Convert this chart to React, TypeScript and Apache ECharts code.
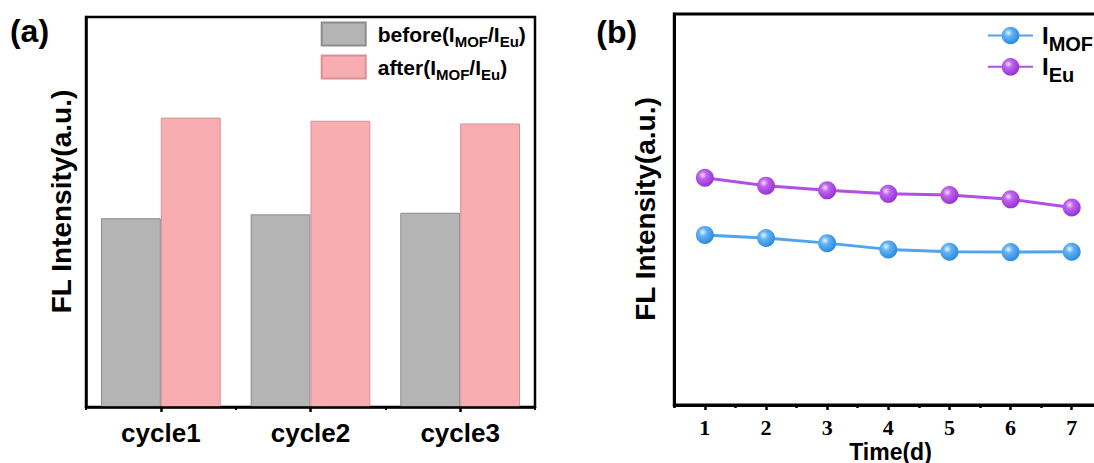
import React, { useEffect, useRef } from 'react';
import * as echarts from 'echarts';

// ---- data ----
const cycles = ['cycle1', 'cycle2', 'cycle3'];
const beforeValues = [48.4, 49.4, 49.8];
const afterValues = [74.2, 73.4, 72.7];
const days = ['1', '2', '3', '4', '5', '6', '7'];
const mofValues = [43.5, 42.7, 41.4, 39.8, 39.2, 39.1, 39.2];
const euValues = [58.1, 56.1, 54.9, 54.0, 53.7, 52.6, 50.5];
const barSeriesNames = ['before', 'after'];
const lineSeriesNames = ['IMOF', 'IEu'];

const SANS = '"Liberation Sans", Arial, sans-serif';
const SERIF = '"Liberation Serif", "Times New Roman", serif';

function sphere(hi: string, mid: string, edge: string) {
  return new echarts.graphic.RadialGradient(0.38, 0.35, 0.65, [
    { offset: 0, color: hi },
    { offset: 0.35, color: mid },
    { offset: 1, color: edge },
  ]);
}

export default function App() {
  const ref = useRef<HTMLDivElement>(null);
  useEffect(() => {
    const chart = echarts.init(ref.current!, null, { renderer: 'svg' });
    const blueFill = sphere('#eaf5ff', '#62b2f4', '#2d8be0');
    const purpleFill = sphere('#f3dcff', '#bd62ee', '#9a32d4');
    const option: any = {
      animation: false,
      backgroundColor: '#fff',
      grid: [
        { left: 86, top: 17, width: 449, height: 390, show: true, borderColor: '#000', borderWidth: 2.5, backgroundColor: 'transparent', outerBoundsMode: 'none', containLabel: false },
        { left: 674.3, top: 14, width: 428, height: 391, show: true, borderColor: '#000', borderWidth: 3, backgroundColor: 'transparent', outerBoundsMode: 'none', containLabel: false },
      ],
      legend: [
        {
          data: barSeriesNames,
          orient: 'vertical',
          left: 320.7,
          top: 21.5,
          padding: 0,
          itemWidth: 44,
          itemHeight: 23,
          itemGap: 5.5,
          icon: 'rect',
          formatter: (name: string) => `{m|${name}(I}{s|MOF}{m|/I}{s|Eu}{m|)}`,
          textStyle: {
            padding: [0, 0, 0, 7],
            rich: {
              m: { fontFamily: SANS, fontWeight: 'bold', fontSize: 21, lineHeight: 30, color: '#000' },
              s: { fontFamily: SANS, fontWeight: 'bold', fontSize: 15, lineHeight: 14, verticalAlign: 'bottom', color: '#000' },
            },
          },
        },
        {
          data: lineSeriesNames,
          orient: 'vertical',
          left: 987,
          top: 23.5,
          padding: 0,
          itemWidth: 45,
          itemHeight: 22,
          itemGap: 1.3,
          formatter: (name: string) => `{m|I}{s|${name.slice(1)}}`,
          textStyle: {
            padding: [0, 0, 0, 4],
            rich: {
              m: { fontFamily: SANS, fontWeight: 'bold', fontSize: 24, lineHeight: 36, color: '#000' },
              s: { fontFamily: SANS, fontWeight: 'bold', fontSize: 20, lineHeight: 20, verticalAlign: 'bottom', color: '#000' },
            },
          },
        },
      ],
      xAxis: [
        {
          type: 'category', gridIndex: 0, data: cycles, z: 5,
          axisLine: { show: true, lineStyle: { color: '#000', width: 2.5 } },
          axisTick: { show: true, alignWithLabel: true, length: 5, lineStyle: { color: '#000', width: 2.5 } },
          axisLabel: { show: true, color: '#000', fontFamily: SANS, fontWeight: 'bold', fontSize: 26, margin: 13 },
          splitLine: { show: false },
        },
        {
          type: 'category', gridIndex: 0, data: cycles, z: 5, position: 'bottom',
          axisLine: { show: false },
          axisTick: { show: true, alignWithLabel: false, length: 3, lineStyle: { color: '#000', width: 2 } },
          axisLabel: { show: false },
          splitLine: { show: false },
        },
        {
          type: 'category', gridIndex: 1, data: days, z: 5,
          axisLine: { show: true, lineStyle: { color: '#000', width: 3 } },
          axisTick: { show: true, alignWithLabel: true, length: 5, lineStyle: { color: '#000', width: 2.5 } },
          axisLabel: { show: true, color: '#000', fontFamily: SERIF, fontWeight: 'bold', fontSize: 22, margin: 11 },
          splitLine: { show: false },
        },
        {
          type: 'category', gridIndex: 1, data: days, z: 5, position: 'bottom',
          axisLine: { show: false },
          axisTick: { show: true, alignWithLabel: false, length: 3, lineStyle: { color: '#000', width: 2.5 } },
          axisLabel: { show: false },
          splitLine: { show: false },
        },
      ],
      yAxis: [
        {
          type: 'value', gridIndex: 0, min: 0, max: 100, z: 5,
          axisLine: { show: true, lineStyle: { color: '#000', width: 2.5 } },
          axisTick: { show: false }, axisLabel: { show: false }, splitLine: { show: false },
        },
        {
          type: 'value', gridIndex: 1, min: 0, max: 100, z: 5,
          axisLine: { show: true, lineStyle: { color: '#000', width: 3 } },
          axisTick: { show: false }, axisLabel: { show: false }, splitLine: { show: false },
        },
      ],
      series: [
        {
          name: barSeriesNames[0], type: 'bar', xAxisIndex: 0, yAxisIndex: 0, data: beforeValues,
          barGap: '0%', barCategoryGap: '20%',
          itemStyle: { color: '#b4b4b4', borderColor: '#8c8c8c', borderWidth: 1 },
        },
        {
          name: barSeriesNames[1], type: 'bar', xAxisIndex: 0, yAxisIndex: 0, data: afterValues,
          barGap: '0%', barCategoryGap: '20%',
          itemStyle: { color: '#f8aeb1', borderColor: '#d99095', borderWidth: 1 },
        },
        {
          name: lineSeriesNames[0], type: 'line', xAxisIndex: 2, yAxisIndex: 1, data: mofValues,
          symbol: 'circle', symbolSize: 18,
          lineStyle: { color: '#4ea4ef', width: 3 },
          itemStyle: { color: blueFill },
        },
        {
          name: lineSeriesNames[1], type: 'line', xAxisIndex: 2, yAxisIndex: 1, data: euValues,
          symbol: 'circle', symbolSize: 18,
          lineStyle: { color: '#b24ee4', width: 3 },
          itemStyle: { color: purpleFill },
        },
      ],
      graphic: [
        { type: 'text', x: 29.5, y: 30.5, style: { text: '(a)', fontFamily: SANS, fontWeight: 'bold', fontSize: 32, fill: '#000', align: 'center', verticalAlign: 'middle' } },
        { type: 'text', x: 616.7, y: 31.5, style: { text: '(b)', fontFamily: SANS, fontWeight: 'bold', fontSize: 32, fill: '#000', align: 'center', verticalAlign: 'middle' } },
        { type: 'text', x: 61, y: 201.5, rotation: Math.PI / 2, style: { text: 'FL Intensity(a.u.)', fontFamily: SANS, fontWeight: 'bold', fontSize: 28, fill: '#000', align: 'center', verticalAlign: 'middle' } },
        { type: 'text', x: 645.5, y: 209, rotation: Math.PI / 2, style: { text: 'FL Intensity(a.u.)', fontFamily: SANS, fontWeight: 'bold', fontSize: 28, fill: '#000', align: 'center', verticalAlign: 'middle' } },
        { type: 'text', x: 890.5, y: 451.5, style: { text: 'Time(d)', fontFamily: SANS, fontWeight: 'bold', fontSize: 23, fill: '#000', align: 'center', verticalAlign: 'middle' } },
      ],
    };
    chart.setOption(option);
    return () => chart.dispose();
  }, []);
  return <div ref={ref} style={{ position: 'absolute', left: 0, top: 0, width: 1094, height: 463 }} />;
}
